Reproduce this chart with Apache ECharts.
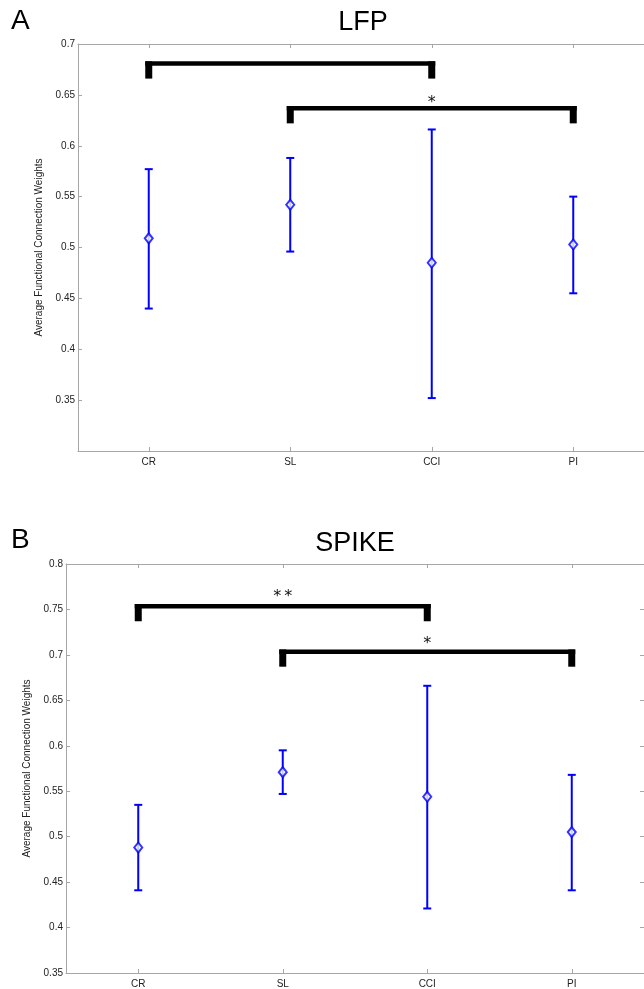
<!DOCTYPE html>
<html>
<head>
<meta charset="utf-8">
<script src="https://cdn.jsdelivr.net/npm/echarts@6/dist/echarts.min.js"></script>
<style>
html,body{margin:0;padding:0;background:#fff;}
#chart{width:644px;height:989px;}
</style>
</head>
<body>
<div id="chart"></div>
<script>
// ---- data ----
const categories = ['CR', 'SL', 'CCI', 'PI'];

const lfpMean  = [0.509, 0.542, 0.485, 0.503];
const lfpUpper = [0.577, 0.588, 0.616, 0.550];
const lfpLower = [0.440, 0.496, 0.352, 0.455];

const spikeMean  = [0.488, 0.571, 0.544, 0.505];
const spikeUpper = [0.535, 0.595, 0.666, 0.568];
const spikeLower = [0.441, 0.547, 0.421, 0.441];

const lfpTickLabels   = ['0.35', '0.4', '0.45', '0.5', '0.55', '0.6', '0.65', '0.7'];
const spikeTickLabels = ['0.35', '0.4', '0.45', '0.5', '0.55', '0.6', '0.65', '0.7', '0.75', '0.8'];

// significance brackets: [fromIndex, toIndex, topValue, legBottomValue]
const lfpBrackets   = [[0, 2, 0.683, 0.666], [1, 3, 0.639, 0.622]];
const lfpStars      = ['', '*'];
const lfpStarY      = [0, 0.6456];
const spikeBrackets = [[0, 2, 0.756, 0.737], [1, 3, 0.706, 0.687]];
const spikeStars    = ['**', '*'];
const spikeStarY    = [0.767, 0.716];

const yAxisName = 'Average Functional Connection Weights';
const panelTitles = ['LFP', 'SPIKE'];
const panelLetters = ['A', 'B'];

// ---- chart ----
const FONT = 'Liberation Sans, Arial, sans-serif';
const STARFONT = 'DejaVu Sans, sans-serif';
const BLUE = '#0000ff';
const AXIS = '#a6a6a6';

const chart = echarts.init(document.getElementById('chart'), null, {renderer: 'canvas'});

function errData(lo, hi) { return categories.map((c, i) => [i, lo[i], hi[i]]); }
function meanData(m) { return categories.map((c, i) => [i, m[i]]); }

function errRender(params, api) {
  const x = api.value(0);
  const lo = api.coord([x, api.value(1)]);
  const hi = api.coord([x, api.value(2)]);
  const cw = 4;
  const st = {stroke: BLUE, lineWidth: 2};
  return {type: 'group', children: [
    {type: 'line', shape: {x1: lo[0], y1: lo[1], x2: hi[0], y2: hi[1]}, style: st},
    {type: 'line', shape: {x1: lo[0] - cw, y1: lo[1], x2: lo[0] + cw, y2: lo[1]}, style: st},
    {type: 'line', shape: {x1: hi[0] - cw, y1: hi[1], x2: hi[0] + cw, y2: hi[1]}, style: st}
  ]};
}

function bracketRender(stars, starY) {
  return function (params, api) {
    const a = api.coord([api.value(0), api.value(2)]);
    const b = api.coord([api.value(1), api.value(2)]);
    const bot = api.coord([api.value(0), api.value(3)]);
    const lw = 7, th = 4.5;
    const children = [
      {type: 'rect', shape: {x: a[0] - lw / 2, y: a[1], width: b[0] - a[0] + lw, height: th}, style: {fill: '#000'}},
      {type: 'rect', shape: {x: a[0] - lw / 2, y: a[1], width: lw, height: bot[1] - a[1]}, style: {fill: '#000'}},
      {type: 'rect', shape: {x: b[0] - lw / 2, y: a[1], width: lw, height: bot[1] - a[1]}, style: {fill: '#000'}}
    ];
    const s = stars[params.dataIndex];
    if (s) {
      const fs = 16;
      const sy = api.coord([api.value(0), starY[params.dataIndex]])[1];
      children.push({type: 'text', style: {text: s.split('').join('\u2009'), x: (a[0] + b[0]) / 2, y: sy + fs * 0.2,
        align: 'center', verticalAlign: 'middle', fontSize: fs, fontFamily: STARFONT, fill: '#111'}});
    }
    return {type: 'group', children};
  };
}

function yFmt(labels) {
  return function (v) {
    const t = String(+v.toFixed(2));
    return labels.indexOf(t) >= 0 ? t : '';
  };
}

const grids = [
  {left: 78, top: 44, width: 574, height: 407},
  {left: 66, top: 564, width: 580, height: 413}
];
const nameGaps = [21, 18];
const rightTicks = [false, true];

const xAxes = [], yAxes = [];
[0, 1].forEach(g => {
  const base = {
    gridIndex: g, type: 'category', data: categories, boundaryGap: true,
    axisLine: {show: true, lineStyle: {color: AXIS, width: 1}},
    axisTick: {show: true, inside: true, alignWithLabel: true, length: 4, lineStyle: {color: AXIS}},
    splitLine: {show: false}
  };
  xAxes.push(Object.assign({}, base, {position: 'bottom',
    axisLabel: {show: true, fontSize: 10, color: '#222', fontFamily: FONT, margin: 6}}));
  xAxes.push(Object.assign({}, base, {position: 'top', axisLabel: {show: false}}));
});
const yRanges = [[0.3, 0.7, lfpTickLabels], [0.35, 0.8, spikeTickLabels]];
[0, 1].forEach(g => {
  const [mn, mx, labels] = yRanges[g];
  const base = {
    gridIndex: g, type: 'value', min: mn, max: mx, interval: 0.05,
    axisLine: {show: true, lineStyle: {color: AXIS, width: 1}},
    axisTick: {show: true, inside: true, length: 4, lineStyle: {color: AXIS}},
    splitLine: {show: false}
  };
  yAxes.push(Object.assign({}, base, {position: 'left',
    name: yAxisName, nameLocation: 'middle', nameGap: nameGaps[g], nameRotate: 90,
    nameTextStyle: {fontSize: 10, color: '#222', fontFamily: FONT},
    axisLabel: {show: true, fontSize: 10, color: '#222', fontFamily: FONT, margin: 3, formatter: yFmt(labels)}}));
  yAxes.push(Object.assign({}, base, {position: 'right', axisLabel: {show: false},
    axisTick: {show: rightTicks[g], inside: true, length: 4, lineStyle: {color: AXIS}}}));
});

const panels = [
  {lo: lfpLower, hi: lfpUpper, m: lfpMean, br: lfpBrackets, st: lfpStars, sy: lfpStarY},
  {lo: spikeLower, hi: spikeUpper, m: spikeMean, br: spikeBrackets, st: spikeStars, sy: spikeStarY}
];
const series = [];
panels.forEach((p, g) => {
  series.push({type: 'custom', xAxisIndex: g * 2, yAxisIndex: g * 2, data: errData(p.lo, p.hi),
    renderItem: errRender, encode: {x: 0, y: [1, 2]}, z: 2, silent: true});
  series.push({type: 'scatter', xAxisIndex: g * 2, yAxisIndex: g * 2, data: meanData(p.m),
    symbol: 'diamond', symbolSize: [8, 10], itemStyle: {color: '#fff', borderColor: BLUE, borderWidth: 2}, z: 3, silent: true});
  series.push({type: 'custom', xAxisIndex: g * 2, yAxisIndex: g * 2, data: p.br,
    renderItem: bracketRender(p.st, p.sy), encode: {x: [0, 1], y: [2, 3]}, z: 4, silent: true});
});

chart.setOption({
  animation: false,
  backgroundColor: '#fff',
  grid: grids,
  xAxis: xAxes,
  yAxis: yAxes,
  series: series,
  graphic: [
    {type: 'text', left: 11, top: 7, style: {text: panelLetters[0], fontSize: 28, fontFamily: FONT, fill: '#000'}},
    {type: 'text', left: 11, top: 526, style: {text: panelLetters[1], fontSize: 28, fontFamily: FONT, fill: '#000'}},
    {type: 'text', x: 363, y: 23, style: {text: panelTitles[0], fontSize: 27, fontFamily: FONT, fill: '#000', align: 'center', verticalAlign: 'middle'}},
    {type: 'text', x: 355, y: 544, style: {text: panelTitles[1], fontSize: 27, fontFamily: FONT, fill: '#000', align: 'center', verticalAlign: 'middle'}}
  ]
});
</script>
</body>
</html>
